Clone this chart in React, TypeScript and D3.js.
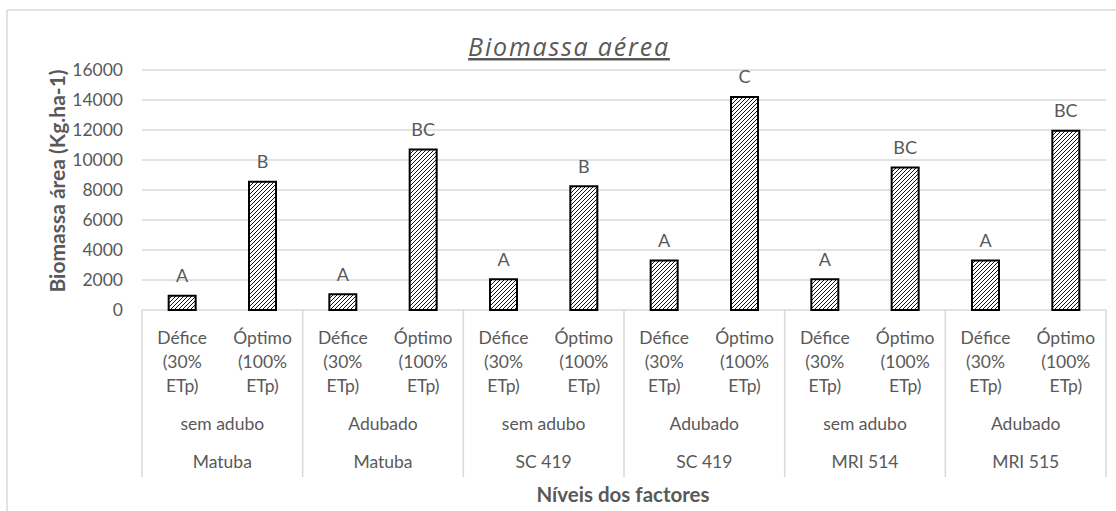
import React from "react";
import * as d3 from "d3";

const varieties = ["Matuba", "Matuba", "SC 419", "SC 419", "MRI 514", "MRI 515"];
const fertilization = ["sem adubo", "Adubado", "sem adubo", "Adubado", "sem adubo", "Adubado"];
const treatmentLines = [
  ["Défice", "(30%", "ETp)"],
  ["Óptimo", "(100%", "ETp)"],
];
const biomass = [950, 8550, 1050, 10700, 2050, 8250, 3300, 14200, 2050, 9500, 3300, 11950];
const letters = ["A", "B", "A", "BC", "A", "B", "A", "C", "A", "BC", "A", "BC"];
const yTicks = [0, 2000, 4000, 6000, 8000, 10000, 12000, 14000, 16000];

const W = 1116;
const H = 511;
const left = 142;
const right = 1106;
const top = 70;
const bottom = 310;
const grey = "#d9d9d9";
const textColor = "#595959";
const font = "Lato, 'Open Sans', sans-serif";

export default function App() {
  const groups = varieties.map((_, i) => String(i));
  const bars = biomass.map((_, i) => String(i));
  const xGroup = d3.scaleBand<string>().domain(groups).range([left, right]).padding(0);
  const x = d3.scaleBand<string>().domain(bars).range([left, right]).paddingInner(0.664).paddingOuter(0.332);
  const y = d3.scaleLinear().domain([0, 16000]).range([bottom, top]);
  const step = x.step();

  return (
    <svg width={W} height={H} style={{ position: "absolute", left: 0, top: 0, background: "#fff" }}>
      <defs>
        <pattern id="hatch" patternUnits="userSpaceOnUse" width="4" height="4">
          <rect width="4" height="4" fill="#fff" />
          <path d="M-1,1 l2,-2 M0,4 l4,-4 M3,5 l2,-2" stroke="#111" strokeWidth="1" />
        </pattern>
      </defs>
      {/* chart border */}
      <line x1={7} y1={10} x2={W} y2={10} stroke={grey} strokeWidth={1.5} />
      <line x1={7} y1={10} x2={7} y2={H} stroke={grey} strokeWidth={1.5} />

      {/* title */}
      <text x={569} y={56} textAnchor="middle" fontFamily="'Open Sans', sans-serif" fontStyle="italic" fontSize={25} letterSpacing={1.8} fill={textColor} textDecoration="underline">
        Biomassa aérea
      </text>

      {/* gridlines */}
      {yTicks.map((t) => (
        <g key={t}>
          {t > 0 && <line x1={left} x2={right} y1={y(t)} y2={y(t)} stroke={grey} strokeWidth={1.5} />}
          <text x={123} y={y(t)} dy="0.35em" textAnchor="end" fontFamily={font} fontSize={17.5} fill={textColor}>
            {t}
          </text>
        </g>
      ))}

      {/* axis line & separators */}
      <line x1={left} x2={right} y1={bottom} y2={bottom} stroke={grey} strokeWidth={1.5} />
      {d3.range(groups.length + 1).map((k) => {
        const xx = k < groups.length ? (xGroup(groups[k]) as number) : right;
        return <line key={k} x1={xx} x2={xx} y1={bottom} y2={477} stroke={grey} strokeWidth={1.5} />;
      })}

      {/* bars */}
      {biomass.map((v, i) => (
        <g key={i}>
          <rect
            x={x(bars[i])}
            y={y(v)}
            width={x.bandwidth()}
            height={bottom - y(v)}
            fill="url(#hatch)"
            stroke="#000"
            strokeWidth={2}
          />
          <text
            x={(x(bars[i]) as number) + x.bandwidth() / 2}
            y={y(v) - 20}
            dy="0.35em"
            textAnchor="middle"
            fontFamily={font}
            fontSize={18}
            fill={textColor}
          >
            {letters[i]}
          </text>
          {treatmentLines[i % 2].map((ln, j) => (
            <text
              key={j}
              x={left + step * (i + 0.5)}
              y={338 + j * 24}
              dy="0.35em"
              textAnchor="middle"
              fontFamily={font}
              fontSize={17.5}
              fill={textColor}
            >
              {ln}
            </text>
          ))}
        </g>
      ))}

      {/* group labels */}
      {groups.map((g, k) => {
        const cx = (xGroup(g) as number) + xGroup.bandwidth() / 2;
        return (
          <g key={g}>
            <text x={cx} y={424} dy="0.35em" textAnchor="middle" fontFamily={font} fontSize={17.5} fill={textColor}>
              {fertilization[k]}
            </text>
            <text x={cx} y={462} dy="0.35em" textAnchor="middle" fontFamily={font} fontSize={17.5} fill={textColor}>
              {varieties[k]}
            </text>
          </g>
        );
      })}

      {/* axis titles */}
      <text x={623} y={495} dy="0.35em" textAnchor="middle" fontFamily={font} fontWeight="bold" fontSize={20.5} fill={textColor}>
        Níveis dos factores
      </text>
      <text
        transform={`translate(58,${181}) rotate(-90)`}
        dy="0.35em"
        textAnchor="middle"
        fontFamily={font}
        fontWeight="bold"
        fontSize={21}
        fill={textColor}
      >
        Biomassa área (Kg.ha-1)
      </text>
    </svg>
  );
}
